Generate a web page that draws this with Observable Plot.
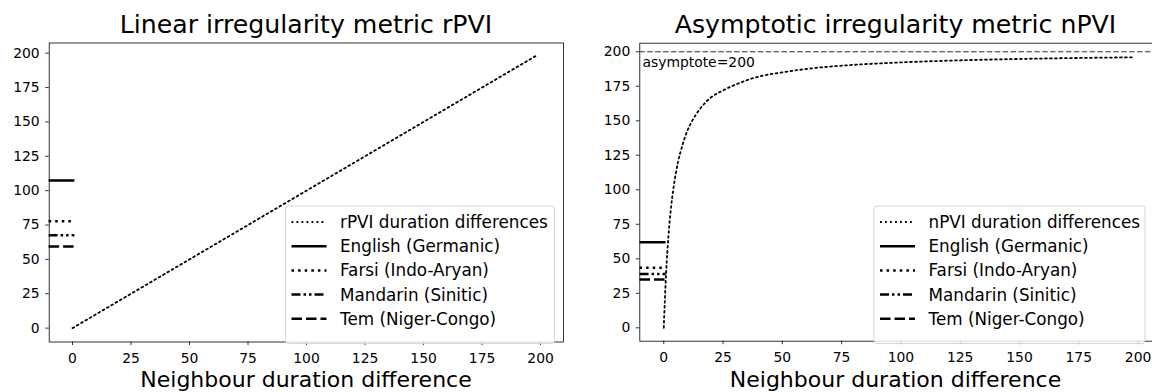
<!DOCTYPE html>
<html>
<head>
<meta charset="utf-8">
<script src="https://cdn.jsdelivr.net/npm/d3@7"></script>
<script src="https://cdn.jsdelivr.net/npm/@observablehq/plot@0.6"></script>
<style>
  body { margin: 0; background: #fff; color: #000; font-family: "DejaVu Sans", sans-serif; }
  #fig { position: relative; width: 1152px; height: 392px; overflow: hidden; background: #fff; }
  .panel { position: absolute; top: 0; }
  #overlay { position: absolute; left: 0; top: 0; pointer-events: none; }
</style>
</head>
<body>
<div id="fig"></div>
<script>
// Tick values shared by both panels
const diffTicks = [0, 25, 50, 75, 100, 125, 150, 175, 200];
const valueTicks = [0, 25, 50, 75, 100, 125, 150, 175, 200];

// rPVI grows linearly with the neighbour duration difference
const rpviDiff = [0, 198];
const rpviValue = [0, 198];

// nPVI saturates towards its asymptote
const npviDiff = [0, 1, 2, 3, 4, 5, 6, 7, 8, 10, 12, 15, 20, 25, 30, 40, 50, 60, 80, 100, 125, 150, 175, 198];
const npviValue = [0, 40, 67, 86, 100, 111, 120, 127, 133, 143, 150, 158, 167, 172, 176, 182, 185, 187.5, 190.5, 192.3, 193.8, 194.8, 195.5, 196];

// Reference languages
const languages = ["English (Germanic)", "Farsi (Indo-Aryan)", "Mandarin (Sinitic)", "Tem (Niger-Congo)"];
const rpviLanguage = [107.4, 77.8, 67.6, 59.4];
const npviLanguage = [62, 43.5, 39, 35];
const languageSpan = [-10, 1];

const asymptote = 200;
const asymptoteLabel = "asymptote=200";
const asymptoteLabelAt = [-9, 189];

// Line styles
const curveStyle = { strokeWidth: 1.8, dash: "1.8,3.2" };
const languageStyles = [
  { strokeWidth: 2.5, dash: null },
  { strokeWidth: 2.5, dash: "2.5,4.1" },
  { strokeWidth: 2.5, dash: "9,3,2.5,3,2.5,3" },
  { strokeWidth: 2.5, dash: "10.5,4" }
];

const FONT = "DejaVu Sans";

function panel({ left, width, margins, xDomain, yDomain, curveX, curveY, langValues, extra }) {
  const rows = d3.zip(curveX, curveY).map(([x, y]) => ({ x, y }));
  const marks = [
    Plot.frame({ stroke: "black", strokeWidth: 0.8 }),
    Plot.axisX(diffTicks, { tickSize: 3.5, tickPadding: 7.5, strokeWidth: 0.8, fontSize: 13.9, label: null }),
    Plot.axisY(valueTicks, { tickSize: 3.5, tickPadding: 6, strokeWidth: 0.8, fontSize: 13.9, label: null }),
    ...(extra || []),
    Plot.line(rows, { x: "x", y: "y", curve: "monotone-x", stroke: "black",
      strokeWidth: curveStyle.strokeWidth, strokeDasharray: curveStyle.dash }),
    ...langValues.map((v, i) => Plot.ruleY([v], {
      x1: languageSpan[0], x2: languageSpan[1], stroke: "black",
      strokeWidth: languageStyles[i].strokeWidth,
      strokeDasharray: languageStyles[i].dash || undefined
    }))
  ];
  const svg = Plot.plot({
    width, height: 392,
    marginLeft: margins[0], marginRight: margins[1], marginTop: margins[2], marginBottom: margins[3],
    x: { domain: xDomain, ticks: [] },
    y: { domain: yDomain, ticks: [] },
    style: { fontFamily: FONT, fontSize: "13.9px", background: "transparent", color: "black", overflow: "visible" },
    marks
  });
  svg.classList.add("panel");
  svg.style.left = left + "px";
  return svg;
}

const fig = document.getElementById("fig");

fig.appendChild(panel({
  left: 0, width: 580, margins: [48.7, 17, 42.5, 50.5],
  xDomain: [-9.96, 209.8], yDomain: [-10.1, 207.4],
  curveX: rpviDiff, curveY: rpviValue, langValues: rpviLanguage
}));

fig.appendChild(panel({
  left: 580, width: 580, margins: [59.3, 7.5, 42.7, 51.3],
  xDomain: [-10.1, 206.3], yDomain: [-9.7, 206.2],
  curveX: npviDiff, curveY: npviValue, langValues: npviLanguage,
  extra: [
    Plot.ruleY([asymptote], { stroke: "#333", strokeWidth: 1.1, strokeDasharray: "5.5,2.4" }),
    Plot.text([asymptoteLabel], { x: asymptoteLabelAt[0], y: asymptoteLabelAt[1], text: d => d,
      textAnchor: "start", lineAnchor: "bottom", fontSize: 13.9, fill: "black" })
  ]
}));

// Titles, axis labels and legends
const overlay = d3.select(fig).append("svg")
  .attr("id", "overlay").attr("width", 1152).attr("height", 392)
  .style("font-family", FONT);

const headers = [
  { cx: 306, title: "Linear irregularity metric rPVI" },
  { cx: 895.5, title: "Asymptotic irregularity metric nPVI" }
];
headers.forEach(h => {
  overlay.append("text").attr("x", h.cx).attr("y", 33).attr("text-anchor", "middle")
    .attr("font-size", 25.2).text(h.title);
  overlay.append("text").attr("x", h.cx).attr("y", 386.5).attr("text-anchor", "middle")
    .attr("font-size", 22).text("Neighbour duration difference");
});

const legends = [
  { x0: 285.5, x1: 554.5, first: "rPVI duration differences" },
  { x0: 874, x1: 1145, first: "nPVI duration differences" }
];
const legendTop = 206, legendBottom = 343.5;
const rowY = [222, 246.2, 270.4, 294.6, 318.8];
legends.forEach(L => {
  const g = overlay.append("g");
  g.append("rect").attr("x", L.x0).attr("y", legendTop)
    .attr("width", L.x1 - L.x0).attr("height", legendBottom - legendTop)
    .attr("rx", 3).attr("fill", "white").attr("fill-opacity", 0.8)
    .attr("stroke", "#cccccc").attr("stroke-opacity", 0.8).attr("stroke-width", 1);
  const entries = [{ label: L.first, style: curveStyle }]
    .concat(languages.map((name, i) => ({ label: name, style: languageStyles[i] })));
  entries.forEach((e, i) => {
    g.append("line").attr("x1", L.x0 + 6).attr("x2", L.x0 + 41)
      .attr("y1", rowY[i]).attr("y2", rowY[i])
      .attr("stroke", "black").attr("stroke-width", e.style.strokeWidth)
      .attr("stroke-dasharray", e.style.dash || null);
    g.append("text").attr("x", L.x0 + 54.5).attr("y", rowY[i])
      .attr("dominant-baseline", "central").attr("font-size", 16.8).text(e.label);
  });
});
</script>
</body>
</html>
